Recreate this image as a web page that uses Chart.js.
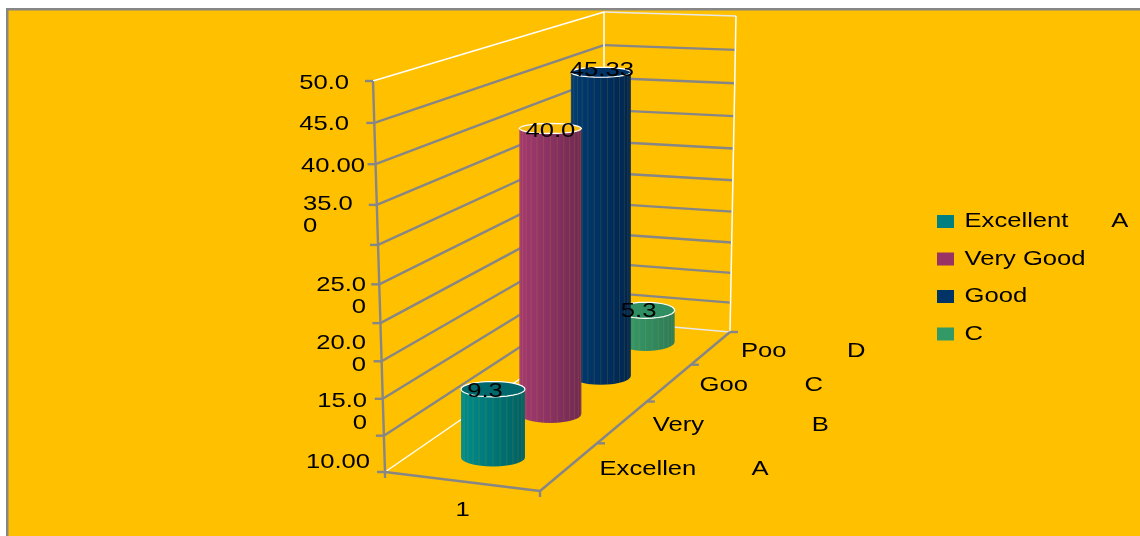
<!DOCTYPE html>
<html lang="en">
<head>
  <meta charset="UTF-8" />
  <title>Grades</title>
  <script src="https://cdn.jsdelivr.net/npm/chart.js"></script>
  <style>
    html, body { margin: 0; padding: 0; background: #fff; overflow: hidden; }
    canvas { display: block; }
  </style>
</head>
<body>
  <canvas id="gradeChart" width="1140" height="536"></canvas>

  <script>
    const seriesNames = ['Excellent      A', 'Very Good', 'Good', 'C'];
    const seriesValues = [9.3, 40.0, 45.33, 5.3];
    const valueLabels = ['9.3', '40.0', '45.33', '5.3'];
    const categories = ['1'];
    const depthLabels = ['Excellen', 'Very', 'Goo', 'Poo'];
    const depthGrades = ['A', 'B', 'C', 'D'];
    // wrapped tick text, lowest tick first
    const tickLabels = ['', '', '10.00', ['15.0', '0'], ['20.0', '0'], ['25.0', '0'], '', ['35.0', '0'], '40.00', '45.0', '50.0'];

    const seriesColors = ['#008080', '#993366', '#003366', '#339966'];

    const FONT = '"Liberation Sans", Arial, sans-serif';
    const FONT_SIZE = 21;
    const TEXT_STRETCH = 1.22;

    // box corners on screen
    const floorFL = [385, 472], floorFR = [540, 491], floorBR = [730, 332], floorBL = [604, 321];
    const wallTopLeft = [373, 81], wallTopBack = [604, 12], wallTopRight = [736, 16];

    // cylinder look: [left shade, right shade, top face]
    const shades = [
      ['#008c8c', '#005f63', '#00696d'],
      ['#a33a72', '#6f2a52', '#f6b90c'],
      ['#003c74', '#00254f', '#003366'],
      ['#37a06c', '#2d7a58', '#2f8f62']
    ];

    // value label nudges from the cylinder top
    const labelShift = [[-8, 2], [0, 3], [1, -2], [-7, 1]];
    // where each axis tick text sits: value -> [x, y, align]
    const tickTextPlace = {
      50: [349, 83, 'right'], 45: [349, 124, 'right'], 40: [365, 166, 'right'],
      35: [303, 215, 'left'], 25: [366, 296, 'right'], 20: [366, 354, 'right'],
      15: [367, 412, 'right'], 10: [370, 462, 'right']
    };
    const gradeGap = [152, 159, 105, 106];

    function lerp(a, b, t) { return a + (b - a) * t; }

    // floor plane: (u, d) in the unit square to screen, with perspective
    function floorMapping() {
      const [x0, y0] = floorFL, [x1, y1] = floorFR, [x2, y2] = floorBR, [x3, y3] = floorBL;
      const dx1 = x1 - x2, dx2 = x3 - x2, sx = x0 - x1 + x2 - x3;
      const dy1 = y1 - y2, dy2 = y3 - y2, sy = y0 - y1 + y2 - y3;
      const den = dx1 * dy2 - dx2 * dy1;
      const g = (sx * dy2 - dx2 * sy) / den;
      const h = (dx1 * sy - sx * dy1) / den;
      const a = x1 - x0 + g * x1, b = x3 - x0 + h * x3;
      const d = y1 - y0 + g * y1, e = y3 - y0 + h * y3;
      return (u, v) => {
        const w = g * u + h * v + 1;
        return [(a * u + b * v + x0) / w, (d * u + e * v + y0) / w];
      };
    }
    const floorAt = floorMapping();

    function line(ctx, a, b, color, width) {
      ctx.strokeStyle = color;
      ctx.lineWidth = width;
      ctx.beginPath();
      ctx.moveTo(a[0], a[1]);
      ctx.lineTo(b[0], b[1]);
      ctx.stroke();
    }

    function drawBox(chart) {
      const ctx = chart.ctx;
      const y = chart.scales.y;
      const span = y.getPixelForValue(0) - y.getPixelForValue(50);
      const gray = '#868686';

      y.ticks.forEach(t => {
        const raw = (y.getPixelForValue(0) - y.getPixelForValue(t.value)) / span;
        // walls bow slightly, the upper ticks spread further apart
        const frac = raw - 0.08 * raw * (1 - raw);
        const front = [lerp(floorFL[0], wallTopLeft[0], frac), lerp(floorFL[1], wallTopLeft[1], frac)];
        const back = [lerp(floorBL[0], wallTopBack[0], frac), lerp(floorBL[1], wallTopBack[1], frac)];
        const right = [lerp(floorBR[0], wallTopRight[0], frac), lerp(floorBR[1], wallTopRight[1], frac)];
        const edge = t.value === 0 || t.value === 50;
        line(ctx, front, back, edge ? '#fff' : gray, edge ? 1.5 : 2.4);
        line(ctx, back, right, edge ? '#e8e8e8' : gray, edge ? 1.5 : 2.4);
        line(ctx, [front[0] - 8, front[1]], front, gray, 2.4);
      });

      line(ctx, floorBL, wallTopBack, '#fff', 1.5);
      line(ctx, floorBR, wallTopRight, '#fff', 1.5);
      line(ctx, floorFL, wallTopLeft, gray, 2.4);
      line(ctx, floorFL, floorFR, gray, 2.4);
      line(ctx, floorFR, floorBR, gray, 2.4);
      line(ctx, floorFL, [floorFL[0], floorFL[1] + 6], gray, 2.4);
      line(ctx, floorFR, [floorFR[0], floorFR[1] + 6], gray, 2.4);

      for (let i = 1; i <= depthLabels.length; i++) {
        const p = floorAt(1, i / depthLabels.length);
        line(ctx, p, [p[0] + 8, p[1]], gray, 2.4);
      }
    }

    function drawCylinder(ctx, i, bar) {
      const d = (i + 0.5) / seriesValues.length;
      const [cx, baseY] = floorAt(0.5, d);
      const shrink = 0.94 - 0.235 * Math.pow(d, 2.2);
      const topY = baseY - (bar.base - bar.y) * shrink;
      const rx = 32.5 - 4 * d;
      const ryBase = 9;
      const ryTop = 8.5 - 3.5 * Math.min(1, seriesValues[i] / 40);
      const sides = 14;
      const [light, dark, face] = shades[i];

      const grad = ctx.createLinearGradient(cx - rx, 0, cx + rx, 0);
      grad.addColorStop(0, light);
      grad.addColorStop(1, dark);

      ctx.beginPath();
      for (let k = 0; k <= sides; k++) {
        const a = Math.PI * k / sides;
        const px = cx - rx * Math.cos(a), py = baseY + ryBase * Math.sin(a);
        if (k === 0) ctx.moveTo(px, py); else ctx.lineTo(px, py);
      }
      for (let k = sides; k >= 0; k--) {
        const a = Math.PI * k / sides;
        ctx.lineTo(cx - rx * Math.cos(a), topY + ryTop * Math.sin(a));
      }
      ctx.closePath();
      ctx.fillStyle = grad;
      ctx.fill();

      // seams between the facets
      for (let k = 1; k < sides; k += 1) {
        const a = Math.PI * k / sides;
        const px = cx - rx * Math.cos(a);
        line(ctx, [px, topY + ryTop * Math.sin(a)], [px, baseY + ryBase * Math.sin(a)], 'rgba(255,192,0,0.13)', 1);
      }

      ctx.beginPath();
      for (let k = 0; k < sides * 2; k++) {
        const a = Math.PI * k / sides;
        const px = cx - rx * Math.cos(a), py = topY + ryTop * Math.sin(a);
        if (k === 0) ctx.moveTo(px, py); else ctx.lineTo(px, py);
      }
      ctx.closePath();
      ctx.fillStyle = face;
      ctx.fill();
      ctx.strokeStyle = '#fff';
      ctx.lineWidth = 1.2;
      ctx.stroke();

      return [cx, topY];
    }

    const boxPlugin = {
      id: 'box3d',
      beforeInit(chart) {
        // Text in this chart runs wide, so every string goes through a horizontal stretch
        const ctx = chart.ctx;
        const fillText = ctx.fillText.bind(ctx);
        ctx.fillText = (text, x, y) => {
          ctx.save();
          ctx.translate(x, y);
          ctx.scale(TEXT_STRETCH, 1);
          fillText(text, 0, 0);
          ctx.restore();
        };
      },
      afterLayout(chart) {
        const legend = chart.legend;
        legend.left = 920.5;
        legend.top = 194.5;
        legend.right = chart.width;
        legend.bottom = chart.height;
      },
      beforeDraw(chart) {
        const ctx = chart.ctx;
        ctx.save();
        ctx.fillStyle = '#FFC000';
        ctx.fillRect(7, 9, chart.width, chart.height);
        ctx.fillStyle = '#868686';
        ctx.fillRect(6, 8, chart.width, 2.5);
        ctx.fillRect(6, 8, 2.5, chart.height);
        ctx.restore();

        // hand-wrapped axis text sits away from its tick
        const y = chart.scales.y;
        y.getLabelItems().forEach((item, i) => {
          const place = tickTextPlace[y.ticks[i].value];
          if (!place) return;
          item.options.translation = [place[0], place[1]];
          item.options.textAlign = place[2];
          item.options.textBaseline = 'middle';
        });
        drawBox(chart);
      },
      beforeDatasetDraw() {
        return false; // flat bars are replaced by the cylinders
      },
      afterDatasetsDraw(chart) {
        const ctx = chart.ctx;
        ctx.save();
        const tops = [];
        for (let i = seriesValues.length - 1; i >= 0; i--) {
          tops[i] = drawCylinder(ctx, i, chart.getDatasetMeta(i).data[0]);
        }

        ctx.font = FONT_SIZE + 'px ' + FONT;
        ctx.fillStyle = '#000';
        ctx.textBaseline = 'middle';
        ctx.textAlign = 'center';
        tops.forEach((p, i) => {
          ctx.fillText(valueLabels[i], p[0] + labelShift[i][0], p[1] + labelShift[i][1]);
        });

        ctx.textAlign = 'left';
        depthLabels.forEach((name, i) => {
          const p = floorAt(1, (i + 0.5) / depthLabels.length);
          ctx.fillText(name, p[0] + 30, p[1] + 3);
          ctx.fillText(depthGrades[i], p[0] + 30 + gradeGap[i], p[1] + 3);
        });
        ctx.restore();
      },
      afterDraw(chart) {
        // last legend row is cut off at the foot of its frame
        const ctx = chart.ctx;
        ctx.fillStyle = '#FFC000';
        ctx.fillRect(955, 343, 60, 12);
      }
    };

    new Chart(document.getElementById('gradeChart'), {
      type: 'bar',
      data: {
        labels: categories,
        datasets: seriesNames.map((name, i) => ({
          label: name,
          data: [seriesValues[i]],
          backgroundColor: seriesColors[i],
          borderWidth: 0
        }))
      },
      options: {
        responsive: false,
        animation: false,
        events: [],
        layout: { padding: { top: 81, right: 600, bottom: 0, left: 0 } },
        scales: {
          x: {
            grid: { display: false },
            border: { display: false },
            ticks: { color: '#000', padding: 18, maxRotation: 0, font: { family: FONT, size: FONT_SIZE } },
            afterFit(scale) { scale.height = 64; }
          },
          y: {
            min: 0,
            max: 50,
            grid: { display: false },
            border: { display: false },
            ticks: {
              stepSize: 5,
              autoSkip: false,
              color: '#000',
              font: { family: FONT, size: FONT_SIZE, lineHeight: 1.02 },
              callback: (value, i) => tickLabels[i]
            },
            afterFit(scale) { scale.width = 385; }
          }
        },
        plugins: {
          tooltip: { enabled: false },
          legend: {
            position: 'chartArea',
            align: 'start',
            labels: {
              color: '#000',
              boxWidth: 17,
              boxHeight: 13,
              padding: 16.5,
              font: { family: FONT, size: FONT_SIZE }
            }
          }
        }
      },
      plugins: [boxPlugin]
    });
  </script>
</body>
</html>
